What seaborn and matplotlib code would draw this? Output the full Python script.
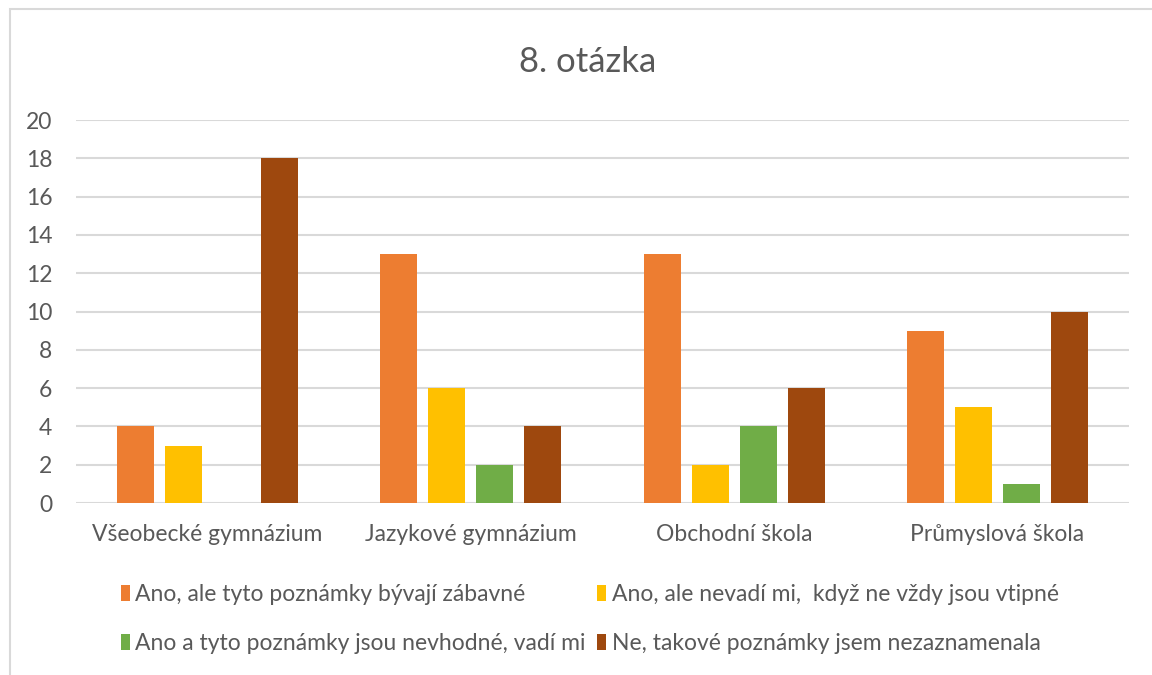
import pandas as pd
import seaborn as sns
from matplotlib import pyplot as plt
from matplotlib.patches import Rectangle, Patch

# categories and series
schools = ["Všeobecké gymnázium", "Jazykové gymnázium", "Obchodní škola", "Průmyslová škola"]
answers = [
    "Ano, ale tyto poznámky bývají zábavné",
    "Ano, ale nevadí mi,  když ne vždy jsou vtipné",
    "Ano a tyto poznámky jsou nevhodné, vadí mi",
    "Ne, takové poznámky jsem nezaznamenala",
]
fun = [4, 13, 13, 9]
dont_mind = [3, 6, 2, 5]
inappropriate = [0, 2, 4, 1]
not_noticed = [18, 4, 6, 10]
colors = ["#ED7D31", "#FFC000", "#70AD47", "#9E480E"]

rows = []
for answer, values in zip(answers, [fun, dont_mind, inappropriate, not_noticed]):
    for school, v in zip(schools, values):
        rows.append({"school": school, "answer": answer, "count": v})
df = pd.DataFrame(rows)

sns.set_theme(style="white")
plt.rcParams["font.family"] = ["Lato", "DejaVu Sans"]
text_grey = "#595959"
grid_grey = "#D9D9D9"

fig = plt.figure(figsize=(11.52, 6.75), dpi=100)
ax = fig.add_axes([0.066, 0.2548, 0.914, 0.5674])

sns.barplot(
    data=df, x="school", y="count", hue="answer",
    hue_order=answers, order=schools, palette=colors, saturation=1,
    width=0.73, gap=0.23, linewidth=0, legend=False, ax=ax,
)

ax.set_ylim(0, 20)
ax.set_yticks(range(0, 21, 2))
ax.set_xlim(-0.5, 3.5)
ax.yaxis.grid(True, color=grid_grey, linewidth=1.5)
ax.set_axisbelow(True)
for s in ax.spines.values():
    s.set_visible(False)
ax.set_xlabel("")
ax.set_ylabel("")
ax.tick_params(axis="y", length=0, pad=17, labelsize=16.5, labelcolor=text_grey)
ax.tick_params(axis="x", length=0, pad=15, labelsize=16.5, labelcolor=text_grey)

fig.text(0.51, 0.908, "8. otázka", ha="center", va="center", fontsize=25, color=text_grey)

# legend is filled row by row in the reference
order = [0, 2, 1, 3]
handles = [Patch(facecolor=colors[i], edgecolor="none") for i in order]
labels = [answers[i] for i in order]
fig.legend(
    handles, labels, ncol=2, loc="center", bbox_to_anchor=(0.512, 0.083),
    frameon=False, fontsize=16.5, labelcolor=text_grey,
    handlelength=0.4, handleheight=0.7, handletextpad=0.25,
    columnspacing=0.5, labelspacing=1.2,
)

# chart frame
fig.add_artist(Rectangle((10 / 1152, -0.1), 1.2, 1.1 - 9 / 675, transform=fig.transFigure,
                         fill=False, edgecolor=grid_grey, linewidth=1.5))

fig.savefig("out.png", dpi=100)
